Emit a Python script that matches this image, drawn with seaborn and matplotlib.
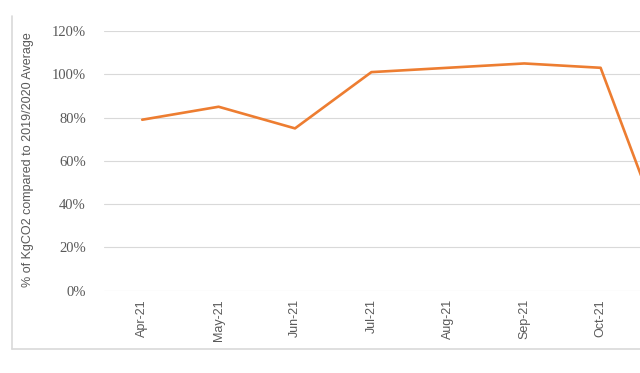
import pandas as pd
import seaborn as sns
import matplotlib.pyplot as plt
from matplotlib.lines import Line2D
from matplotlib.ticker import PercentFormatter

# monthly kgCO2 as a share of the 2019/2020 average
months = ["Apr-21", "May-21", "Jun-21", "Jul-21", "Aug-21", "Sep-21", "Oct-21", "Nov-21"]
pct_of_avg = [0.79, 0.85, 0.75, 1.01, 1.03, 1.05, 1.03, 0.09]
y_ticks = [0, 0.2, 0.4, 0.6, 0.8, 1.0, 1.2]

df = pd.DataFrame({"month": months, "pct": pct_of_avg})

sns.set_style("white")
plt.rcParams["font.family"] = ["Liberation Sans", "DejaVu Sans"]

W, H = 640, 373
fig = plt.figure(figsize=(W / 100, H / 100), dpi=100)

# plot area runs past the right edge, like the cropped original
step = 76.4
left_px, top_px, bottom_px = 104, 31, 290.7
ax = fig.add_axes([left_px / W, (H - bottom_px) / H,
                   step * len(months) / W, (bottom_px - top_px) / H])

sns.lineplot(data=df, x="month", y="pct", ax=ax, color="#ED7D31",
             linewidth=1.9, sort=False)

ax.set_xlim(-0.5, len(months) - 0.5)
ax.set_ylim(0, 1.2)
ax.set_yticks(y_ticks)
ax.yaxis.set_major_formatter(PercentFormatter(1.0, decimals=0))
ax.grid(axis="y", color="#d9d9d9", linewidth=0.8)
ax.set_axisbelow(True)
for s in ax.spines.values():
    s.set_visible(False)

ax.tick_params(axis="y", length=0, pad=13, labelsize=10.5, labelcolor="#595959")
ax.tick_params(axis="x", length=0, pad=6, labelsize=9, labelcolor="#595959",
               labelrotation=90)
for lbl in ax.get_yticklabels():
    lbl.set_family(["Liberation Serif", "DejaVu Serif"])
# the last month sits beyond the crop, its label is not shown
ax.get_xticklabels()[-1].set_visible(False)

ax.set_xlabel("")
ax.set_ylabel("")
fig.text(28 / W, (H - 160) / H, "% of KgCO2 compared to 2019/2020 Average",
         rotation=90, ha="center", va="center", fontsize=9, color="#595959")

# chart frame (left and bottom edges visible)
fig.add_artist(Line2D([12 / W, 12 / W], [(H - 16) / H, (H - 349) / H],
                      color="#d9d9d9", linewidth=1.2))
fig.add_artist(Line2D([12 / W, 1.0], [(H - 349) / H, (H - 349) / H],
                      color="#d9d9d9", linewidth=1.2))

plt.savefig("out.png", dpi=100)
